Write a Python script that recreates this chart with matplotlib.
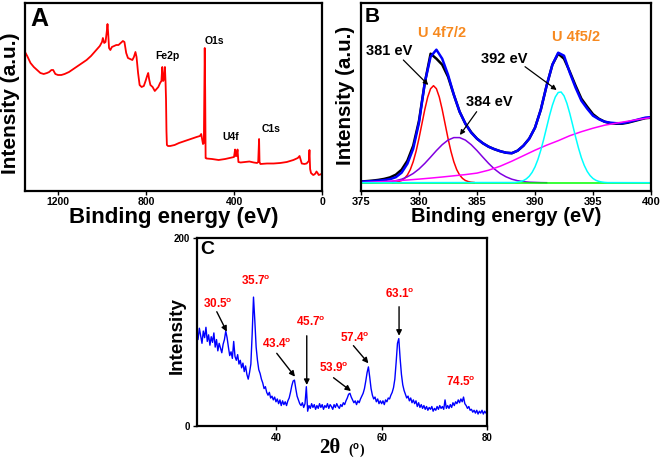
import numpy as np
import matplotlib
matplotlib.use('Agg')
import matplotlib.pyplot as plt

plt.rcParams['font.family'] = ['Liberation Sans', 'DejaVu Sans']
plt.rcParams['font.weight'] = 'bold'
plt.rcParams['mathtext.fontset'] = 'custom'
plt.rcParams['mathtext.rm'] = 'Liberation Sans:bold'
plt.rcParams['mathtext.default'] = 'rm'

# ---------------- panel A : XPS survey ----------------
a_be = [1350, 1340, 1325, 1310, 1295, 1280, 1265, 1250, 1240, 1230, 1222, 1212,
        1200, 1185, 1170, 1150, 1130, 1110, 1090, 1070, 1050, 1030, 1010, 1000,
        996, 990, 984, 978, 975, 972, 968, 962, 955, 945, 935, 925, 915, 905,
        898, 890, 882, 872, 862, 855, 848, 843, 836, 829, 820, 810, 802, 795,
        790, 786, 780, 770, 760, 752, 744, 736, 730, 726, 722, 718, 714, 711,
        709, 707, 705, 700, 690, 670, 650, 630, 610, 590, 570, 555, 549, 545,
        541, 537, 533, 531, 529, 525, 500, 470, 440, 420, 400, 395, 393, 388,
        384, 380, 370, 350, 330, 310, 295, 290, 286, 284, 280, 250, 220, 190,
        160, 130, 110, 102, 98, 92, 80, 70, 60, 57, 54, 50, 45, 40, 35, 30,
        25, 20, 15, 8, 3, 0]
a_int = [139, 135, 128, 124, 121, 118, 117, 118, 119, 121, 121, 117,
         116, 116, 117, 119, 122, 125, 128, 131, 135, 140, 145, 149,
         153, 148, 149, 160, 167, 158, 143, 141, 144, 145, 146, 146, 148, 150,
         149, 138, 133, 132, 131, 134, 139, 134, 118, 106, 104, 105, 110, 115,
         118, 112, 106, 104, 100, 102, 104, 108, 110, 124, 110, 112, 124, 108,
         92, 60, 46, 45, 45, 46, 48, 49.5, 51, 52.5, 54, 55, 57, 52,
         47, 48, 143, 100, 33, 32.5, 32, 31, 32, 33, 34, 41.5, 35, 35,
         41.5, 29, 28.5, 29, 29.5, 28.5, 28, 29, 52, 29, 27, 27.5, 27.5, 28,
         29, 31, 33, 35, 32, 27.5, 27, 27.5, 30, 41, 22, 18, 17, 16, 16.5, 17.5,
         19.5, 18, 16, 16.5, 17, 17]
a_labels = ['Fe2p', 'O1s', 'U4f', 'C1s']

# ---------------- panel B : U 4f high resolution ----------------
b_x = np.arange(375.0, 400.01, 0.5)
b_raw = [1.2, 1.6, 2.1, 2.8, 3.8, 5.3, 8.0, 13, 22, 37, 62, 100, 129, 124, 118,
         106, 88, 71, 59, 50.5, 44, 39.5, 36, 33.5, 31.5, 30, 29.5, 32, 37, 44,
         55, 73, 97, 118, 129, 124, 111, 97, 84, 76, 68.5, 64, 61, 59.5, 59, 59,
         60, 61.5, 63, 64.5, 65]
b_fit = [1.0, 1.3, 1.6, 2.0, 2.6, 3.5, 5.5, 10, 19, 34, 60, 100, 126, 133, 124,
         108, 88, 71, 59, 50, 44, 39.5, 36, 33.5, 31.5, 30, 29.5, 32, 37, 44,
         55, 73, 97, 118, 130, 127, 110, 95, 82, 74, 67, 63.5, 61, 60, 59.5, 59.5,
         60.5, 62, 63.5, 65, 65.5]
b_red_x = np.arange(377.75, 384.76, 0.25)
b_red = [0.2, 0.5, 1.1, 2.2, 4.3, 7.7, 13.1, 21.0, 31.5, 44.4, 58.8, 73.2, 85.6,
         94.0, 97.0, 94.0, 85.6, 73.2, 58.8, 44.4, 31.5, 21.0, 13.1, 7.7, 4.3,
         2.2, 1.1, 0.5, 0.2]
b_pur_x = np.arange(375.0, 391.01, 0.5)
b_pur = [0, 0, 0.1, 0.3, 0.5, 1.1, 2.0, 3.5, 5.9, 9.2, 13.7, 19.3, 25.6, 32.1,
         38.0, 42.6, 45.1, 45.1, 42.6, 38.0, 32.1, 25.6, 19.3, 13.7, 9.2, 5.9,
         3.5, 2.0, 1.1, 0.5, 0.3, 0.1, 0]
b_bg_x = np.arange(375.0, 400.01, 1.0)
b_bg = [0, 0.6, 1.2, 1.9, 2.7, 3.6, 4.6, 5.7, 6.9, 8.1, 9.6, 12.5, 16.5, 21.5,
        27, 32.5, 37.5, 42, 47, 51, 54.5, 57.5, 59.5, 61.5, 63.5, 65]
b_cyan_x = np.concatenate(([375.0], np.arange(388.25, 396.26, 0.25), [400.0]))
b_cyan = [0, 0.2, 0.6, 1.1, 2.1, 3.8, 6.4, 10.3, 15.8, 23.2, 32.5, 43.4, 55.2,
          67.0, 77.5, 85.7, 90.2, 90.7, 86.9, 79.4, 69.2, 57.6, 45.7, 34.6, 24.9,
          17.2, 11.3, 7.1, 4.2, 2.4, 1.3, 0.7, 0.3, 0.1, 0]
b_green_x = [375.0, 400.0]
b_green = [0, 0]

# ---------------- panel C : XRD ----------------
c_theta = np.arange(25, 80.001, 0.25)
c_int = [100, 92, 104, 96,   88, 101, 94, 105,   90, 97, 86, 95,   89, 99, 84, 92,
         80, 88, 83, 78,     87, 92, 101, 94,    84, 75, 79, 72,   90, 74, 70, 76,
         66, 70, 62, 67,     58, 64, 55, 50,     57, 66, 98, 137,  112, 84, 70, 60,
         56, 50, 46, 40,     42, 36, 33, 36,     30, 32, 28, 31,   26, 29, 24, 28,
         22, 27, 23, 26,     22, 27, 30, 36,     43, 48, 49, 40,   32, 28, 24, 22,
         25, 20, 24, 42,     16, 22, 19, 24,     20, 23, 18, 22,   19, 24, 20, 23,
         18, 22, 20, 24,     19, 23, 21, 18,     23, 20, 24, 21,   19, 23, 21, 25,
         23, 27, 30, 34,     35, 31, 28, 25,     27, 23, 27, 25,   29, 32, 35, 40,
         48, 57, 63, 52,     40, 33, 29, 31,     26, 29, 24, 27,   24, 27, 23, 28,
         26, 30, 29, 33,     36, 41, 50, 68,     88, 93, 72, 55,   44, 38, 34, 30,
         32, 27, 30, 25,     28, 24, 27, 21,     25, 20, 23, 19,   22, 18, 21, 17,
         20, 18, 21, 16,     19, 17, 21, 18,     22, 19, 21, 18,   28, 19, 22, 19,
         23, 20, 25, 22,     26, 24, 28, 25,     29, 26, 31, 24,   22, 19, 21, 17,
         18, 15, 17, 14,     17, 13, 16, 14,     17, 13, 16, 14,   15]
c_labels = ['30.5', '35.7', '43.4', '45.7', '53.9', '57.4', '63.1', '74.5']

W, H = 661, 459


def fr(x, y):
    return x / W, 1 - y / H


def box(l, t, r, b):
    return [l / W, 1 - b / H, (r - l) / W, (b - t) / H]


def frame(ax, size, pad=2):
    for s in ax.spines.values():
        s.set_linewidth(1.6)
    ax.tick_params(direction='out', length=3, width=1, labelsize=size, pad=pad)
    for t in ax.get_xticklabels() + ax.get_yticklabels():
        t.set_fontweight('bold')


fig = plt.figure(figsize=(W / 100, H / 100), dpi=100)

# ---- A ----
axA = fig.add_axes(box(25, 3, 322, 191))
axA.plot(a_be, a_int, color='#ff0000', lw=1.3)
axA.set_xlim(1350, 0)
axA.set_ylim(0, 188)
axA.set_xticks([1200, 800, 400, 0])
axA.set_yticks([])
frame(axA, 7.5, pad=1.2)
for lab, (x, y) in zip(a_labels, [(703, 135), (491, 149.5), (416, 53.5), (230, 61.5)]):
    axA.text(x, y, lab, fontsize=7.5, fontweight='bold', ha='center', va='center')
fig.text(*fr(39, 19), 'A', fontsize=18, fontweight='bold', ha='center', va='center')
fig.text(*fr(174, 217), 'Binding energy (eV)', fontsize=16, fontweight='bold',
         ha='center', va='center')
fig.text(*fr(10.5, 103), 'Intensity (a.u.)', fontsize=15, fontweight='bold',
         rotation=90, ha='center', va='center')

# ---- B ----
axB = fig.add_axes(box(361, 3, 651, 190.5))
axB.plot(b_x, b_raw, color='black', lw=1.8)
axB.plot(b_x, b_fit, color='#0000ff', lw=1.8)
axB.plot(b_red_x, b_red, color='#ff0000', lw=1.1)
axB.plot(b_pur_x, b_pur, color='#8000e0', lw=1.1)
axB.plot(b_bg_x, b_bg, color='#ff00ff', lw=1.1)
axB.plot(b_green_x, b_green, color='#00ff00', lw=1.1)
axB.plot(b_cyan_x, b_cyan, color='#00ffff', lw=1.1)
axB.set_xlim(375, 400)
axB.set_ylim(-7.8, 179.7)
axB.set_xticks(np.arange(375, 401, 5))
axB.set_yticks([])
frame(axB, 8)
orange = '#f7891f'
axB.text(381.98, 149.7, 'U 4f7/2', color=orange, fontsize=10.5, fontweight='bold',
         ha='center', va='center')
axB.text(393.53, 146.2, 'U 4f5/2', color=orange, fontsize=10.5, fontweight='bold',
         ha='center', va='center')
arr = dict(arrowstyle='-|>', color='black', lw=0.9, mutation_scale=7, shrinkA=0, shrinkB=0)
for lab, tpos, a0, a1 in [('381 eV', (377.41, 131.7), (378.65, 122.7), (380.8, 97.7)),
                          ('384 eV', (386.03, 80.7), (384.97, 71), (383.53, 47.7)),
                          ('392 eV', (387.33, 123.7), (389.14, 116), (391.87, 92.7))]:
    axB.text(*tpos, lab, fontsize=10.5, fontweight='bold', ha='center', va='center')
    axB.annotate('', xy=a1, xytext=a0, arrowprops=arr)
fig.text(*fr(372, 17), 'B', fontsize=15, fontweight='bold', ha='center', va='center')
fig.text(*fr(506, 216), 'Binding energy (eV)', fontsize=14.5, fontweight='bold',
         ha='center', va='center')
fig.text(*fr(345.5, 95), 'Intensity (a.u.)', fontsize=14.8, fontweight='bold',
         rotation=90, ha='center', va='center')

# ---- C ----
axC = fig.add_axes(box(196.7, 237.7, 487.3, 426.3))
axC.plot(c_theta, c_int, color='#0000ff', lw=1.0)
axC.set_xlim(25, 80)
axC.set_ylim(0, 200)
axC.set_xticks([40, 60, 80])
axC.set_yticks([0, 200])
frame(axC, 7)
c_text = [(29.1, 129.4), (36.2, 154), (40.15, 87), (46.6, 110),
          (50.9, 62), (55.0, 94), (63.4, 140.3), (75.0, 47.3)]
for lab, (x, y) in zip(c_labels, c_text):
    axC.text(x, y, lab + r'$^{\rm o}$', color='#ff0000', fontsize=8.5,
             fontweight='bold', ha='center', va='center')
arrC = dict(arrowstyle='-|>', color='black', lw=1.0, mutation_scale=8, shrinkA=0, shrinkB=0)
for a0, a1 in [((28.8, 121.5), (30.7, 100.3)), ((40.15, 77.4), (43.6, 52.6)),
               ((45.83, 96), (45.83, 43.8)), ((50.9, 51.5), (54.2, 37.4)),
               ((54.66, 85.5), (57.5, 66.8)), ((63.3, 126.8), (63.3, 96))]:
    axC.annotate('', xy=a1, xytext=a0, arrowprops=arrC)
fig.text(*fr(207.5, 250), 'C', fontsize=14, fontweight='bold', ha='center', va='center')
fig.text(*fr(177.5, 336), 'Intensity', fontsize=13.5, fontweight='bold',
         rotation=90, ha='center', va='center')
fig.text(*fr(330, 448), '2θ', fontsize=15, fontweight='bold',
         family='Liberation Serif', ha='center', va='center')
fig.text(*fr(357, 451), r'($^{\rm o}$)', fontsize=10, family='Liberation Serif',
         ha='center', va='center')

fig.savefig('out.png', dpi=100)
